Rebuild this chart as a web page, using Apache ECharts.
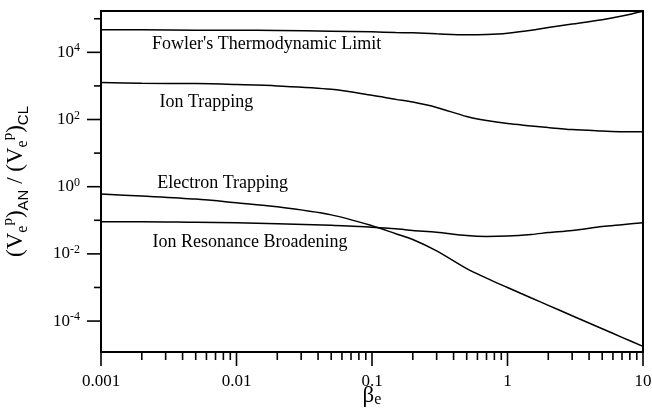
<!DOCTYPE html>
<html>
<head>
<meta charset="utf-8">
<script src="https://cdn.jsdelivr.net/npm/echarts@6/dist/echarts.min.js"></script>
<style>
html, body { margin: 0; padding: 0; background: #fff; }
#chart { width: 652px; height: 413px; }
</style>
</head>
<body>
<div id="chart"></div>
<script>
// beta_e sample points (log x axis)
const beta = [0.001, 0.002, 0.005, 0.01, 0.02, 0.05, 0.1, 0.15, 0.2, 0.3, 0.5, 0.7, 1, 1.5, 2, 3, 5, 7, 10]
const fowler = [46800, 46800, 45700, 45700, 44700, 42700, 40700, 38900, 38000, 35500, 33100, 33900, 37200, 45700, 55000, 69200, 93300, 120000, 166000]
const ionTrapping = [1259, 1202, 1175, 1096, 1000, 794, 525, 398, 331, 229, 123, 93.3, 75.9, 64.6, 57.5, 50.1, 45.7, 43.6, 43.6]
const electronTrapping = [0.603, 0.525, 0.427, 0.331, 0.251, 0.145, 0.0692, 0.0398, 0.0269, 0.0123, 0.00363, 0.0019, 0.001, 0.000486, 0.000294, 0.000144, 0.0000591, 0.0000328, 0.0000176]
const ionResonance = [0.091, 0.091, 0.087, 0.085, 0.079, 0.071, 0.062, 0.056, 0.050, 0.044, 0.035, 0.033, 0.034, 0.038, 0.043, 0.050, 0.065, 0.074, 0.085]

// curve captions and where they sit (data coords)
const captions = ["Fowler's Thermodynamic Limit", 'Ion Trapping', 'Electron Trapping', 'Ion Resonance Broadening']
const captionX = [0.00238, 0.0027, 0.0026, 0.0024]
const captionY = [17400, 330, 1.26, 0.0218]

// axes
const xMin = 0.001
const xMax = 10
const yMin = 1.2e-5
const yMax = 1.7e5
const xMajorTicks = [0.001, 0.01, 0.1, 1, 10]
const xMinorSteps = [2, 3, 4, 5, 6, 7, 8, 9]
const yMajorTicks = [1e-4, 1e-2, 1, 1e2, 1e4]
const yLabelPowers = [-4, -2, 0, 2, 4]
const yMinorTicks = [1e-3, 1e-1, 10, 1e3, 1e5]

const xMinorTicks = []
xMajorTicks.slice(0, 4).forEach((d) => {
  xMinorSteps.forEach((s) => xMinorTicks.push(d * s))
})

const serif = 'Liberation Serif'
const sans = 'Liberation Sans'

function curve(values) {
  return {
    type: 'line',
    symbol: 'none',
    smooth: 0.3,
    lineStyle: { color: '#000', width: 1.5 },
    data: beta.map((b, i) => [b, values[i]]),
  }
}

// short tick marks drawn through the axis scales
function tickSeries(values, axis, len) {
  return {
    type: 'custom',
    silent: true,
    clip: false,
    data: values.map((v) => (axis === 'x' ? [v, yMin] : [xMin, v])),
    renderItem: (params, api) => {
      const p = api.coord([api.value(0), api.value(1)])
      const shape = axis === 'x'
        ? { x1: p[0], y1: p[1], x2: p[0], y2: p[1] + len }
        : { x1: p[0], y1: p[1], x2: p[0] - len, y2: p[1] }
      return { type: 'line', shape: shape, style: { stroke: '#000', lineWidth: 1.6 } }
    },
  }
}

const chart = echarts.init(document.getElementById('chart'))
chart.setOption({
  animation: false,
  backgroundColor: '#fff',
  grid: {
    left: 101,
    right: 9,
    top: 11,
    bottom: 61,
    outerBoundsMode: 'none',
    show: true,
    borderColor: '#000',
    borderWidth: 2,
  },
  xAxis: {
    type: 'log',
    logBase: 10,
    min: xMin,
    max: xMax,
    name: '{g|β}{e|e}',
    nameLocation: 'middle',
    nameGap: 32,
    nameMoveOverlap: false,
    nameTextStyle: {
      rich: {
        g: { fontFamily: serif, fontSize: 23, lineHeight: 24, color: '#000' },
        e: { fontFamily: serif, fontSize: 16, lineHeight: 12, verticalAlign: 'bottom', color: '#000' },
      },
    },
    axisLine: { lineStyle: { color: '#000', width: 2 } },
    axisTick: { show: false },
    splitLine: { show: false },
    axisLabel: {
      color: '#000',
      fontFamily: serif,
      fontSize: 17,
      margin: 21,
      formatter: (v) => String(v),
    },
  },
  yAxis: {
    type: 'log',
    logBase: 10,
    min: yMin,
    max: yMax,
    name: '{n|(V}{sb|e}{sp|p}{n|)}{ss|AN}{n| / (V}{sb|e}{sp|p}{n|)}{ss|CL}',
    nameLocation: 'middle',
    nameGap: 70,
    nameMoveOverlap: false,
    nameTextStyle: {
      rich: {
        n: { fontFamily: serif, fontSize: 23, lineHeight: 30, color: '#000' },
        sb: { fontFamily: serif, fontSize: 16, lineHeight: 15, verticalAlign: 'bottom', color: '#000' },
        sp: { fontFamily: serif, fontSize: 15, lineHeight: 15, verticalAlign: 'top', color: '#000' },
        ss: { fontFamily: sans, fontSize: 15, lineHeight: 14, verticalAlign: 'bottom', color: '#000' },
      },
    },
    axisLine: { lineStyle: { color: '#000', width: 2 } },
    axisTick: { show: false },
    axisLabel: { show: false },
    splitLine: { show: false },
  },
  series: [
    curve(fowler),
    curve(ionTrapping),
    curve(electronTrapping),
    curve(ionResonance),
    tickSeries(xMajorTicks, 'x', 14),
    tickSeries(xMinorTicks, 'x', 8),
    tickSeries(yMajorTicks, 'y', 14),
    tickSeries(yMinorTicks, 'y', 7),
    {
      // y tick labels 10^n, placed with the log scale
      type: 'custom',
      silent: true,
      clip: false,
      data: yMajorTicks.map((v, i) => [xMin, v, yLabelPowers[i]]),
      renderItem: (params, api) => {
        const p = api.coord([api.value(0), api.value(1)])
        return {
          type: 'text',
          x: p[0] - 21,
          y: p[1],
          style: {
            text: '{b|10}{s|' + api.value(2) + '}',
            align: 'right',
            verticalAlign: 'middle',
            rich: {
              b: { fontFamily: serif, fontSize: 17, lineHeight: 20, fill: '#000' },
              s: { fontFamily: serif, fontSize: 12, lineHeight: 10, verticalAlign: 'top', fill: '#000' },
            },
          },
        }
      },
    },
    {
      type: 'scatter',
      symbolSize: 0,
      silent: true,
      itemStyle: { opacity: 1 },
      label: {
        show: true,
        position: 'right',
        distance: 0,
        formatter: '{b}',
        color: '#000',
        opacity: 1,
        fontFamily: serif,
        fontSize: 18,
      },
      data: captions.map((c, i) => ({ name: c, value: [captionX[i], captionY[i]] })),
    },
  ],
})
</script>
</body>
</html>
